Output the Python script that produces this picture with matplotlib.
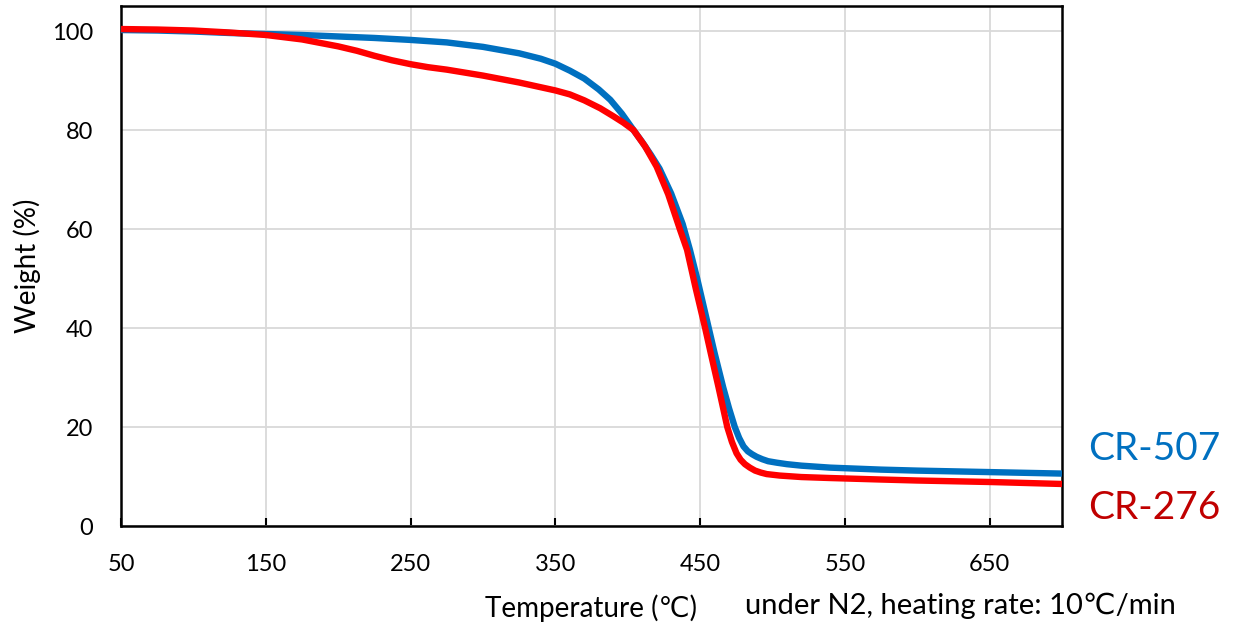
import matplotlib
matplotlib.use("Agg")
import matplotlib.pyplot as plt

plt.rcParams['font.family'] = ['Lato', 'DejaVu Sans']

# TGA curves (temperature in C, weight in %)
cr507_t = [50, 75, 100, 125, 150, 175, 200, 225, 250, 275, 300, 325, 340, 350,
           360, 370, 380, 388, 396, 404, 410, 416, 422, 430, 438, 443, 448, 452,
           456, 460, 466, 470, 474, 477, 480, 483, 486, 489, 493, 497, 503, 510,
           520, 540, 575, 600, 650, 700]
cr507_w = [100.2, 100.1, 99.9, 99.6, 99.4, 99.2, 98.9, 98.6, 98.2, 97.7, 96.8,
           95.5, 94.4, 93.4, 92.0, 90.4, 88.2, 86.1, 83.3, 80.0, 77.6, 75.0,
           72.2, 67.2, 61.0, 55.8, 50.0, 45.0, 40.0, 35.0, 28.0, 23.8, 20.0,
           17.8, 16.1, 15.1, 14.5, 14.0, 13.5, 13.1, 12.8, 12.5, 12.2, 11.8,
           11.4, 11.2, 10.9, 10.6]

cr276_t = [50, 75, 100, 125, 150, 175, 200, 213, 225, 237, 250, 262, 275, 300,
           325, 350, 360, 370, 381, 390, 397, 404, 412, 420, 428, 436, 441, 447,
           453.5, 457.4, 462.7, 468.8, 472, 475.2, 478, 481, 484.4, 488, 492,
           496, 505, 520, 540, 575, 600, 650, 700]
cr276_w = [100.4, 100.3, 100.1, 99.7, 99.2, 98.3, 96.9, 96.0, 95.0, 94.1, 93.3,
           92.7, 92.2, 91.0, 89.6, 88.0, 87.2, 86.0, 84.4, 82.8, 81.5, 80.0,
           76.7, 72.6, 67.0, 60.0, 55.8, 48.0, 40.0, 34.9, 28.1, 20.0, 17.0,
           14.7, 13.4, 12.5, 11.8, 11.2, 10.8, 10.5, 10.2, 9.9, 9.7, 9.4, 9.2,
           8.9, 8.5]

x_ticks = [50, 150, 250, 350, 450, 550, 650]
y_ticks = [0, 20, 40, 60, 80, 100]

blue = '#0070c0'
red = '#ff0000'
dark_red = '#c00000'

fig = plt.figure(figsize=(12.39, 6.27), dpi=100)
ax = fig.add_axes([0.0977, 0.161, 0.7594, 0.829])

ax.plot(cr507_t, cr507_w, color=blue, linewidth=4.6, solid_capstyle='butt',
        solid_joinstyle='round', zorder=3)
ax.plot(cr276_t, cr276_w, color=red, linewidth=4.6, solid_capstyle='butt',
        solid_joinstyle='round', zorder=4)

ax.set_xlim(50, 700)
ax.set_ylim(0, 105)
ax.set_xticks(x_ticks)
ax.set_yticks(y_ticks)
ax.grid(True, color='#d9d9d9', linewidth=1.3)
ax.set_axisbelow(True)

for s in ax.spines.values():
    s.set_linewidth(1.8)
    s.set_color('black')

ax.tick_params(axis='x', direction='in', length=6, width=1.5, pad=20, labelsize=17)
ax.tick_params(axis='y', length=0, pad=20, labelsize=17)

ax.set_ylabel('Weight (%)', fontsize=20, labelpad=8)
ax.set_xlabel('Temperature (℃)', fontsize=20, labelpad=14)

fig.text(0.601, 0.033, 'under N2, heating rate: 10℃/min', fontsize=21, va='center', ha='left')
fig.text(0.878, 0.284, 'CR-507', color=blue, fontsize=28, va='center', ha='left')
fig.text(0.878, 0.19, 'CR-276', color=dark_red, fontsize=28, va='center', ha='left')

fig.savefig('out.png', dpi=100)
